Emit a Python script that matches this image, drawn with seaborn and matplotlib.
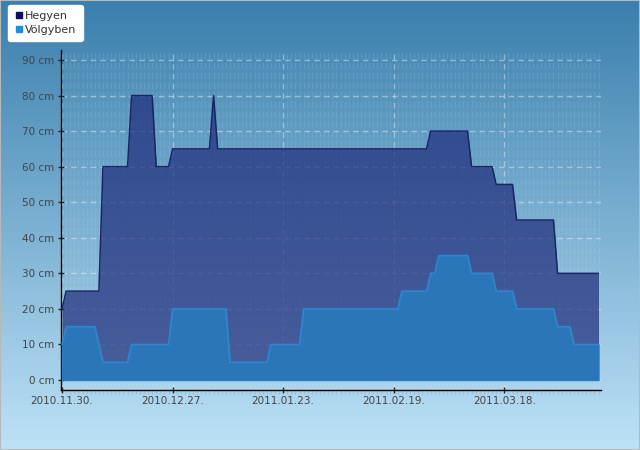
import numpy as np
import pandas as pd
import seaborn as sns
import matplotlib.pyplot as plt
import matplotlib.dates as mdates
from matplotlib.lines import Line2D
from matplotlib.patches import Rectangle
from matplotlib.colors import LinearSegmentedColormap

# snow depth, only the days where the value changes
hegyen_dates = ['2010-11-30', '2010-12-01', '2010-12-09', '2010-12-10', '2010-12-16',
                '2010-12-17', '2010-12-22', '2010-12-23', '2010-12-26', '2010-12-27',
                '2011-01-05', '2011-01-06', '2011-01-07', '2011-02-27', '2011-02-28',
                '2011-03-09', '2011-03-10', '2011-03-15', '2011-03-16', '2011-03-20',
                '2011-03-21', '2011-03-30', '2011-03-31', '2011-04-10']
hegyen_cm = [20, 25, 25, 60, 60, 80, 80, 60, 60, 65, 65, 80, 65, 65, 70,
             70, 60, 60, 55, 55, 45, 45, 30, 30]

volgyben_dates = ['2010-11-30', '2010-12-01', '2010-12-08', '2010-12-09', '2010-12-10',
                  '2010-12-16', '2010-12-17', '2010-12-26', '2010-12-27', '2011-01-09',
                  '2011-01-10', '2011-01-19', '2011-01-20', '2011-01-27', '2011-01-28',
                  '2011-02-20', '2011-02-21', '2011-02-27', '2011-02-28', '2011-03-01',
                  '2011-03-02', '2011-03-09', '2011-03-10', '2011-03-15', '2011-03-16',
                  '2011-03-20', '2011-03-21', '2011-03-30', '2011-03-31', '2011-04-03',
                  '2011-04-04', '2011-04-10']
volgyben_cm = [10, 15, 15, 10, 5, 5, 10, 10, 20, 20, 5, 5, 10, 10, 20, 20, 25, 25,
               30, 30, 35, 35, 30, 30, 25, 25, 20, 20, 15, 15, 10, 10]

x_tick_dates = ['2010-11-30', '2010-12-27', '2011-01-23', '2011-02-19', '2011-03-18']
y_tick_cm = [0, 10, 20, 30, 40, 50, 60, 70, 80, 90]

df_h = pd.DataFrame({'Date': pd.to_datetime(hegyen_dates), 'cm': hegyen_cm})
df_v = pd.DataFrame({'Date': pd.to_datetime(volgyben_dates), 'cm': volgyben_cm})

sns.set_style("ticks")
plt.rcParams['font.family'] = ['DejaVu Sans']

fig = plt.figure(figsize=(6.4, 4.5), dpi=100)

# background gradient
bg = fig.add_axes([0, 0, 1, 1], zorder=-10)
cmap = LinearSegmentedColormap.from_list('bg', ['#3a7fad', '#bde2f7'])
bg.imshow(np.linspace(0, 1, 256).reshape(-1, 1), aspect='auto', cmap=cmap, extent=[0, 1, 0, 1])
bg.axis('off')

ax = fig.add_axes([61/640, 60/450, 540/640, 340/450])
ax.patch.set_alpha(0)

ax.fill_between(df_h['Date'], df_h['cm'], 0, color='#1e2b7a', alpha=0.7, lw=0, zorder=2)
sns.lineplot(data=df_h, x='Date', y='cm', color='#1a2563', lw=1.1, ax=ax, zorder=3)
ax.fill_between(df_v['Date'], df_v['cm'], 0, color='#2a78bb', alpha=0.95,
                edgecolor='#2a7cc4', lw=1, zorder=4)
sns.lineplot(data=df_v, x='Date', y='cm', color='#2f86cc', lw=1.2, ax=ax, zorder=5)

day0 = mdates.date2num(pd.Timestamp('2010-11-30'))
ax.set_xlim(day0 - 0.25, day0 + 131.6)
ax.set_ylim(-2.8, 92.8)

ticks = pd.to_datetime(x_tick_dates)
ax.set_xticks(mdates.date2num(ticks))
ax.set_xticklabels([d.strftime('%Y.%m.%d.') for d in ticks])
ax.xaxis.set_minor_locator(mdates.DayLocator())
ax.set_yticks(y_tick_cm)
ax.set_yticklabels([f"{v} cm" for v in y_tick_cm])

ax.set_axisbelow(True)
ax.grid(axis='y', which='major', color='white', alpha=0.4, ls=(0, (4, 3)), lw=1)
ax.grid(axis='x', which='major', color='white', alpha=0.4, ls=(0, (4, 3)), lw=1)
ax.grid(axis='x', which='minor', color='white', alpha=0.1, ls=(0, (5, 2)), lw=1)

ax.tick_params(axis='both', which='major', direction='inout', length=5, width=1,
               color='#222222', labelsize=7.5, labelcolor='#444444', pad=2)
ax.tick_params(axis='x', which='minor', direction='out', length=3, width=1, color='#9cc3dc')

for s in ['top', 'right']:
    ax.spines[s].set_visible(False)
for s in ['left', 'bottom']:
    ax.spines[s].set_color('black')
    ax.spines[s].set_linewidth(1)

ax.set_xlabel("")
ax.set_ylabel("")

handles = [Line2D([], [], marker='s', ls='none', color='#0d0d5e', markersize=5),
           Line2D([], [], marker='s', ls='none', color='#1b8fd9', markersize=5)]
leg = fig.legend(handles, ['Hegyen', 'Völgyben'], loc='upper left',
                 bbox_to_anchor=(8/640, 1 - 5/450), frameon=True, fancybox=True,
                 facecolor='white', edgecolor='white', framealpha=1, fontsize=8,
                 handletextpad=0.2, borderpad=0.55, labelspacing=0.35, handlelength=0.8,
                 borderaxespad=0)
for t in leg.get_texts():
    t.set_color('#333333')

fig.patches.append(Rectangle((0, 0), 1, 1, transform=fig.transFigure, fill=False,
                             edgecolor='#b8b8b8', lw=1.5))

fig.savefig('out.png', dpi=100)
